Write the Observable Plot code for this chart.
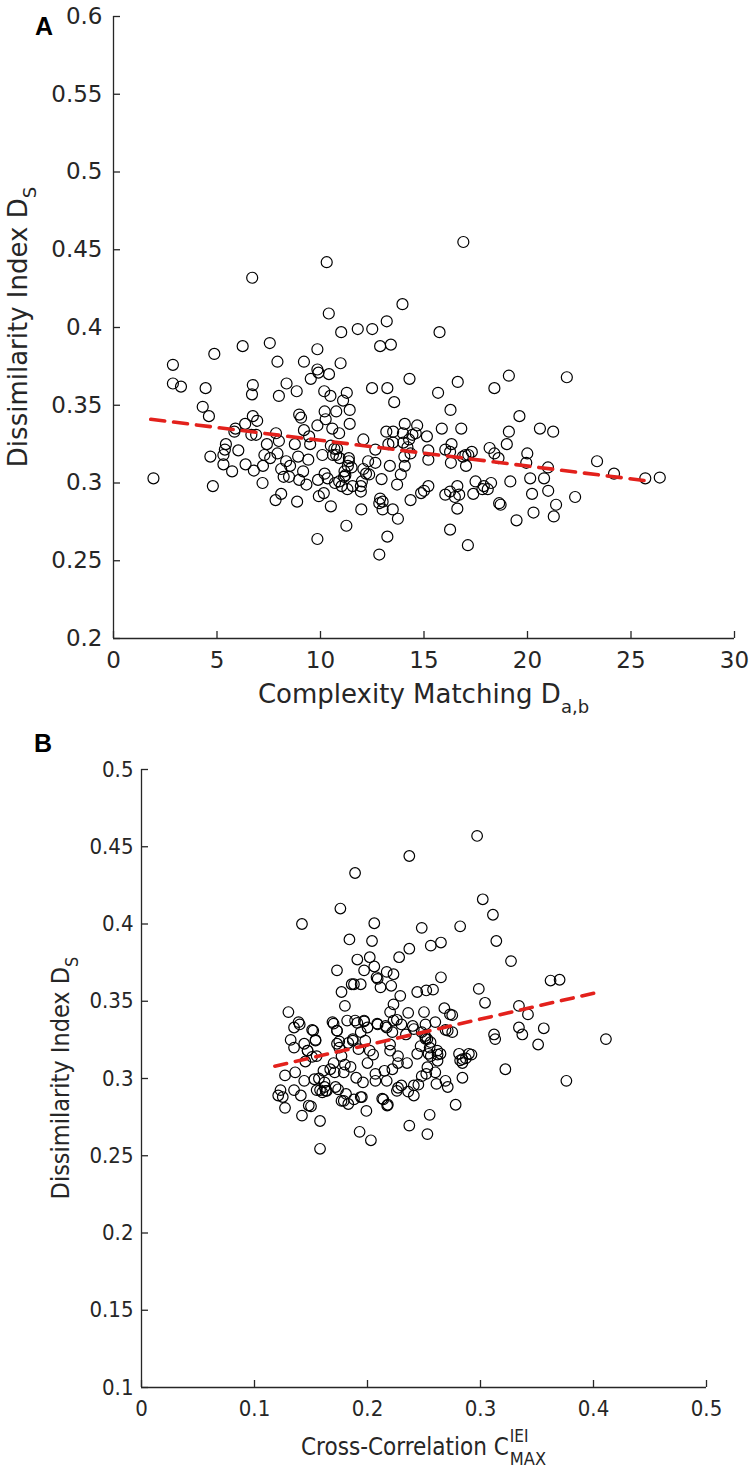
<!DOCTYPE html>
<html><head><meta charset="utf-8">
<script src="https://cdn.jsdelivr.net/npm/d3@7"></script>
<script src="https://cdn.jsdelivr.net/npm/@observablehq/plot@0.6"></script>
<style>
body{margin:0;background:#fff;}
#wrap{position:relative;width:755px;height:1471px;background:#fff;}
#wrap svg{display:block;}
</style></head><body><div id="wrap"></div>
<script>
// ---------- Panel A data: [Complexity Matching D_a,b, Dissimilarity Index D_S]
const pointsA = [
[6.7,0.432],[10.3,0.442],[10.4,0.409],[16.9,0.455],[13.96,0.415],[13.2,0.404],
[11.0,0.397],[11.8,0.399],[12.5,0.399],[15.75,0.397],
[7.55,0.390],[6.24,0.388],[12.88,0.388],[13.4,0.389],[9.85,0.386],[4.87,0.383],
[7.92,0.378],[9.2,0.378],[10.97,0.377],[2.87,0.376],[9.85,0.373],[9.9,0.371],[9.53,0.367],
[10.41,0.370],[19.1,0.369],[21.9,0.368],[14.3,0.367],[2.87,0.364],[3.26,0.362],[6.73,0.363],
[16.63,0.365],[8.36,0.364],[4.45,0.361],[12.49,0.361],[13.23,0.361],[18.4,0.361],[8.85,0.359],
[10.18,0.359],[11.27,0.358],[6.69,0.357],[7.99,0.356],[10.48,0.356],[15.68,0.358],[11.09,0.353],
[13.56,0.352],[4.31,0.349],[16.28,0.347],[10.2,0.346],[10.76,0.346],[11.41,0.347],[4.61,0.343],
[8.97,0.344],[9.06,0.342],[6.73,0.343],[6.94,0.340],[19.61,0.343],[10.25,0.341],[6.36,0.338],
[11.41,0.338],[14.07,0.338],[14.67,0.337],[15.86,0.335],[16.8,0.335],[20.6,0.335],[9.85,0.337],
[10.57,0.335],[5.89,0.335],[5.84,0.333],[9.2,0.334],[7.85,0.332],[13.18,0.333],[13.51,0.333],
[13.98,0.332],[19.1,0.333],[21.24,0.333],[10.9,0.332],[6.66,0.331],[6.89,0.331],[9.45,0.330],
[14.44,0.331],[15.14,0.330],[7.99,0.327],[12.07,0.328],[14.28,0.328],[9.5,0.325],[7.41,0.325],
[8.76,0.325],[16.33,0.325],[13.28,0.325],[10.5,0.324],[5.43,0.325],[19.0,0.325],[10.67,0.322],
[12.65,0.3215],[5.38,0.3215],[6.03,0.321],[7.29,0.318],[7.92,0.319],[10.09,0.318],[16.26,0.320],
[16.03,0.3215],[18.17,0.3225],[19.99,0.319],[18.4,0.319],[17.0,0.318],[17.31,0.320],[17.14,0.318],
[15.21,0.321],[14.35,0.319],[14.05,0.317],[10.76,0.318],[10.92,0.316],[11.37,0.316],[5.31,0.318],
[7.57,0.316],[4.68,0.317],[18.6,0.316],[16.88,0.317],[8.92,0.317],[9.41,0.315],[15.21,0.315],
[11.37,0.314],[8.34,0.314],[12.3,0.314],[23.36,0.314],[16.3,0.313],[19.94,0.313],[12.65,0.313],
[5.31,0.312],[6.38,0.312],[7.22,0.311],[8.53,0.311],[11.32,0.311],[17.03,0.311],[13.35,0.311],
[20.99,0.310],[6.78,0.308],[5.73,0.3075],[8.1,0.309],[14.07,0.311],[12.07,0.309],[11.16,0.3075],
[9.16,0.3075],[24.18,0.306],[10.2,0.306],[13.88,0.3055],[12.35,0.3055],[11.14,0.304],[10.34,0.303],
[20.13,0.303],[20.8,0.303],[1.93,0.303],[25.69,0.303],[26.39,0.3035],[12.95,0.3025],[8.22,0.304],
[8.48,0.304],[10.9,0.301],[8.97,0.302],[9.88,0.302],[7.2,0.300],[19.17,0.301],[18.24,0.300],
[17.49,0.301],[9.32,0.299],[11.02,0.298],[11.55,0.298],[11.95,0.298],[13.7,0.299],[15.21,0.298],
[17.89,0.298],[18.08,0.296],[16.61,0.298],[4.8,0.298],[17.82,0.296],[21.0,0.295],[11.95,0.2945],
[14.86,0.2935],[15.0,0.295],[16.03,0.2925],[16.26,0.2945],[16.7,0.2925],[16.49,0.291],[17.38,0.293],
[20.22,0.293],[8.1,0.293],[10.16,0.2935],[9.92,0.2915],[22.3,0.291],[12.88,0.290],[13.0,0.288],
[12.84,0.287],[7.83,0.289],[8.87,0.288],[14.35,0.289],[18.63,0.287],[18.7,0.286],[10.5,0.285],
[21.38,0.286],[11.97,0.283],[13.0,0.283],[13.49,0.283],[16.61,0.2835],[20.29,0.281],[13.74,0.277],
[19.47,0.276],[21.27,0.2785],[11.25,0.2725],[16.26,0.270],[13.23,0.2655],[9.85,0.264],[17.12,0.260],
[12.84,0.254],
[10.6,0.318],[10.8,0.322],[11.2,0.305],[11.5,0.31],[10.7,0.300],[11.3,0.296],[12.2,0.306],
[12.0,0.301],[13.5,0.326],[14.2,0.323],[14.6,0.332],[14.0,0.326]
];
const fitXA = [1.8, 26.0];
const fitYA = [0.341, 0.301];
const xTicksA = [0, 5, 10, 15, 20, 25, 30];
const yTicksA = [0.2, 0.25, 0.3, 0.35, 0.4, 0.45, 0.5, 0.55, 0.6];

// ---------- Panel B data: [Cross-Correlation C^IEI_MAX, Dissimilarity Index D_S]
const pointsB = [
[0.297,0.457],[0.237,0.444],[0.189,0.433],[0.302,0.416],[0.176,0.410],[0.311,0.406],
[0.142,0.400],[0.206,0.4005],[0.282,0.3985],[0.248,0.3975],[0.184,0.390],[0.204,0.389],[0.314,0.389],
[0.265,0.388],[0.256,0.386],[0.237,0.384],[0.228,0.3785],[0.202,0.3785],[0.191,0.377],[0.327,0.376],
[0.206,0.3725],[0.173,0.370],[0.197,0.370],[0.217,0.369],[0.223,0.3675],[0.208,0.3655],[0.265,0.3655],
[0.209,0.3645],[0.362,0.3634],[0.370,0.3639],[0.186,0.361],[0.188,0.361],[0.194,0.361],[0.221,0.360],
[0.2115,0.359],[0.2985,0.358],[0.258,0.3575],[0.252,0.357],[0.244,0.356],[0.177,0.356],[0.229,0.3535],
[0.223,0.348],[0.304,0.349],[0.180,0.347],[0.334,0.347],
[0.130,0.343],[0.135,0.333],[0.140,0.335],[0.152,0.331],[0.132,0.325],[0.135,0.320],[0.144,0.3225],
[0.147,0.318],[0.154,0.325],[0.151,0.314],[0.145,0.311],[0.155,0.3145],[0.127,0.302],[0.136,0.304],
[0.144,0.2985],[0.153,0.2995],[0.162,0.2975],[0.135,0.2925],[0.123,0.2925],[0.121,0.289],[0.125,0.288],
[0.127,0.281],[0.141,0.289],[0.155,0.2925],[0.160,0.291],[0.164,0.292],[0.150,0.282],[0.142,0.276],
[0.158,0.2725],[0.158,0.2545],[0.170,0.3355],[0.173,0.331],[0.182,0.3375],[0.191,0.336],[0.197,0.337],
[0.200,0.333],[0.194,0.330],[0.175,0.324],[0.183,0.323],[0.175,0.320],[0.187,0.3245],[0.198,0.3245],
[0.192,0.319],[0.202,0.318],[0.205,0.3155],[0.177,0.3145],[0.170,0.310],[0.180,0.309],[0.185,0.3075],
[0.200,0.310],[0.171,0.304],[0.179,0.304],[0.190,0.3005],[0.196,0.2975],[0.207,0.2985],[0.217,0.2985],
[0.207,0.303],[0.215,0.305],[0.162,0.2945],[0.174,0.293],[0.181,0.290],[0.179,0.2855],[0.183,0.2835],
[0.188,0.2865],[0.195,0.288],[0.199,0.279],[0.193,0.2655],[0.203,0.260],[0.214,0.2865],[0.218,0.283],
[0.209,0.335],[0.217,0.333],[0.222,0.330],[0.220,0.343],[0.226,0.338],[0.230,0.335],[0.236,0.3425],
[0.240,0.334],[0.234,0.3285],[0.220,0.322],[0.220,0.318],[0.227,0.3145],[0.227,0.310],[0.222,0.306],
[0.235,0.310],[0.227,0.294],[0.230,0.2955],[0.226,0.292],[0.236,0.2915],[0.241,0.2955],[0.245,0.296],
[0.241,0.289],[0.237,0.2695],[0.253,0.264],[0.255,0.2765],[0.250,0.343],[0.248,0.330],[0.251,0.3275],
[0.253,0.3255],[0.247,0.321],[0.255,0.320],[0.256,0.3145],[0.252,0.303],[0.248,0.3015],[0.260,0.304],
[0.262,0.3155],[0.262,0.3115],[0.261,0.2965],[0.268,0.3455],[0.273,0.3415],[0.275,0.341],[0.271,0.331],
[0.275,0.330],[0.269,0.2985],[0.271,0.2945],[0.278,0.283],[0.284,0.3125],[0.284,0.310],[0.287,0.313],
[0.292,0.3155],[0.284,0.3005],[0.312,0.3285],[0.313,0.3255],[0.322,0.306],[0.334,0.333],[0.337,0.3285],
[0.342,0.3415],[0.351,0.322],[0.356,0.3325],[0.376,0.2985],[0.411,0.3255],
[0.139,0.3365],[0.151,0.3315],[0.169,0.3365],[0.189,0.3375],[0.173,0.331],[0.154,0.3245],[0.147,0.318],
[0.173,0.3225],[0.187,0.3255],[0.157,0.300],[0.161,0.305],[0.167,0.306],[0.158,0.2925],[0.163,0.292],
[0.1717,0.2945],[0.177,0.2855],[0.148,0.2825],[0.197,0.3375],[0.2086,0.3355],[0.216,0.334],[0.223,0.3375],
[0.241,0.332],[0.2513,0.335],[0.260,0.3365],[0.269,0.3315],[0.2513,0.3257],[0.2558,0.3235],[0.2617,0.318],
[0.2646,0.316],[0.244,0.316],[0.254,0.316],[0.253,0.3073],[0.281,0.316],[0.282,0.3117],[0.2897,0.316],
[0.213,0.287],[0.2174,0.2825],[0.194,0.288]
];
const fitXB = [0.118, 0.405];
const fitYB = [0.308, 0.356];
const xTicksB = [0, 0.1, 0.2, 0.3, 0.4, 0.5];
const yTicksB = [0.1, 0.15, 0.2, 0.25, 0.3, 0.35, 0.4, 0.45, 0.5];

// ---------- drawing
const axisColor = "#262626";
const lineRed = "#e3211c";
const fmt = d => d === 0 ? "0" : String(d);
const wrap = document.getElementById("wrap");

function makePanel(o) {
  const data = o.points.map(([x, y]) => ({x, y}));
  const fit = o.fitX.map((x, i) => ({x, y: o.fitY[i]}));
  const innerW = o.width - o.ml - o.mr;
  const innerH = o.height - o.mt - o.mb;
  const chart = Plot.plot({
    width: o.width, height: o.height,
    marginTop: o.mt, marginBottom: o.mb, marginLeft: o.ml, marginRight: o.mr,
    style: {fontFamily: o.font, fontSize: o.tickFont + "px", color: axisColor, background: "#fff", fontStretch: o.stretch},
    x: {domain: [o.xTicks[0], o.xTicks[o.xTicks.length - 1]]},
    y: {domain: [o.yTicks[0], o.yTicks[o.yTicks.length - 1]]},
    marks: [
      Plot.ruleX([o.xTicks[0]], {stroke: axisColor, strokeWidth: 1.3}),
      Plot.ruleY([o.yTicks[0]], {stroke: axisColor, strokeWidth: 1.3}),
      Plot.tickX(o.xTicks, {x: d => d, insetTop: innerH - 7, stroke: axisColor, strokeWidth: 1.3}),
      Plot.tickY(o.yTicks, {y: d => d, insetRight: innerW - 7, stroke: axisColor, strokeWidth: 1.3}),
      Plot.axisX(o.xTicks, {tickSize: 0, tickPadding: o.xPad, tickFormat: fmt, label: null, fontSize: o.tickFont}),
      Plot.axisY(o.yTicks, {tickSize: 0, tickPadding: o.yPad, tickFormat: fmt, label: null, fontSize: o.tickFont}),
      Plot.dot(data, {x: "x", y: "y", r: o.r, stroke: "#000", strokeWidth: 1.2, fill: "none"}),
      Plot.line(fit, {x: "x", y: "y", stroke: lineRed, strokeWidth: 3.6, strokeDasharray: o.dash})
    ]
  });
  wrap.appendChild(chart);
  return {svg: d3.select(chart), cx: o.ml + innerW / 2, cy: o.mt + innerH / 2};
}

// Panel A
const A = makePanel({
  points: pointsA, fitX: fitXA, fitY: fitYA, xTicks: xTicksA, yTicks: yTicksA,
  width: 755, height: 720, mt: 16, mb: 82, ml: 113, mr: 21,
  font: "'DejaVu Sans'", stretch: "normal", tickFont: 23, xPad: 13, yPad: 11, r: 5.5, dash: "14,9"
});
A.svg.append("text").attr("x", 35).attr("y", 35).attr("text-anchor", "start")
  .attr("font-family", "'Liberation Sans', Arial, sans-serif").attr("font-weight", "bold")
  .attr("font-size", 25).attr("fill", "#000").text("A");
{
  const t = A.svg.append("text").attr("x", A.cx).attr("y", 703).attr("text-anchor", "middle")
    .attr("font-family", "'DejaVu Sans'").attr("font-size", 26).attr("fill", axisColor);
  t.append("tspan").text("Complexity Matching D");
  t.append("tspan").attr("dy", 10).attr("font-size", 18).text("a,b");
  const y = A.svg.append("text").attr("transform", `translate(27,${A.cy}) rotate(-90)`)
    .attr("text-anchor", "middle").attr("font-family", "'DejaVu Sans'").attr("font-size", 26).attr("fill", axisColor);
  y.append("tspan").text("Dissimilarity Index D");
  y.append("tspan").attr("dy", 9).attr("font-size", 18).text("S");
}

// Panel B
const condensed = "'DejaVu Sans Condensed', 'DejaVu Sans'";
const B = makePanel({
  points: pointsB, fitX: fitXB, fitY: fitYB, xTicks: xTicksB, yTicks: yTicksB,
  width: 755, height: 751, mt: 49, mb: 84, ml: 141, mr: 49,
  font: condensed, stretch: "condensed", tickFont: 22, xPad: 13, yPad: 8, r: 5.3, dash: "12,9"
});
B.svg.append("text").attr("x", 34).attr("y", 32).attr("text-anchor", "start")
  .attr("font-family", "'Liberation Sans', Arial, sans-serif").attr("font-weight", "bold")
  .attr("font-size", 25).attr("fill", "#000").text("B");
{
  const g = B.svg.append("g").attr("fill", axisColor).attr("text-anchor", "start")
    .attr("font-family", condensed).attr("font-stretch", "condensed");
  const t1 = g.append("text").attr("y", 735).attr("font-size", 24).text("Cross-Correlation C");
  const t2 = g.append("text").attr("y", 722).attr("font-size", 17).text("IEI");
  const t3 = g.append("text").attr("y", 745).attr("font-size", 18).text("MAX");
  const w1 = t1.node().getComputedTextLength();
  const w2 = t2.node().getComputedTextLength();
  const w3 = t3.node().getComputedTextLength();
  const total = w1 + 1 + Math.max(w2, w3);
  const x0 = B.cx - total / 2;
  t1.attr("x", x0); t2.attr("x", x0 + w1 + 1); t3.attr("x", x0 + w1 + 1);
  const y = B.svg.append("text").attr("transform", `translate(69,${B.cy}) rotate(-90)`)
    .attr("text-anchor", "middle").attr("font-family", condensed).attr("font-stretch", "condensed")
    .attr("font-size", 25).attr("fill", axisColor);
  y.append("tspan").text("Dissimilarity Index D");
  y.append("tspan").attr("dy", 9).attr("font-size", 18).text("S");
}
</script></body></html>
